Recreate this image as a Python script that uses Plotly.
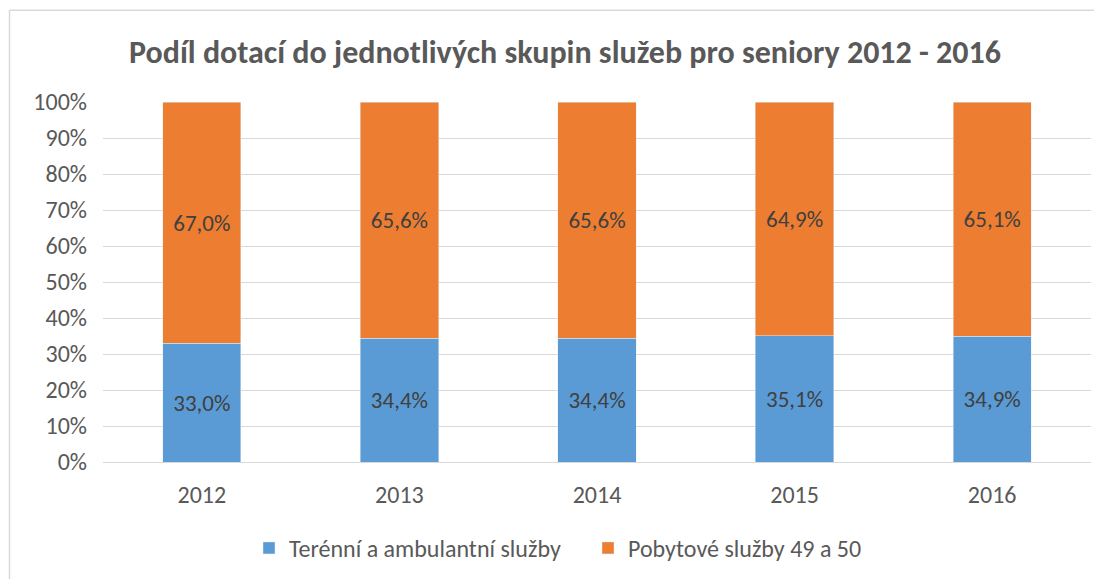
import plotly.graph_objects as go

years = ["2012", "2013", "2014", "2015", "2016"]
teren = [33.0, 34.4, 34.4, 35.1, 34.9]
pobyt = [67.0, 65.6, 65.6, 64.9, 65.1]
series_names = ["Terénní a ambulantní služby", "Pobytové služby 49 a 50"]
title = "Podíl dotací do jednotlivých skupin služeb pro seniory 2012 - 2016"

FONT = "Carlito, Lato, 'Open Sans', sans-serif"
OFF = 8  # page body margin
W, H = 1102 - OFF, 579 - OFF
# plot area in reference screenshot pixels
PL, PR, PT, PB = 103, 1091, 101.7, 461.7
L, R, T, B = PL - OFF, W - (PR - OFF), PT - OFF, H - (PB - OFF)
pw, ph = W - L - R, H - T - B


def px(x):
    return (x - OFF - L) / pw


def py(y):
    return (H - B - (y - OFF)) / ph


fig = go.Figure()
fig.add_bar(x=years, y=teren, name=series_names[0], marker_color="#5B9BD5",
            texttemplate="%{y:.1f}%", textposition="inside", insidetextanchor="middle",
            textfont=dict(family=FONT, size=23, color="#404040"))
fig.add_bar(x=years, y=pobyt, name=series_names[1], marker_color="#ED7D31",
            texttemplate="%{y:.1f}%", textposition="inside", insidetextanchor="middle",
            textfont=dict(family=FONT, size=23, color="#404040"))

fig.update_layout(
    width=W, height=H,
    barmode="stack", bargap=0.604,
    separators=", ",
    plot_bgcolor="white", paper_bgcolor="white",
    margin=dict(l=L, r=R, t=T, b=B, autoexpand=False),
    font=dict(family=FONT, color="#595959", size=24),
    title=dict(text="<b>" + title + "</b>", x=px(565), xanchor="center", xref="paper",
               y=1 - (52 - OFF) / H, yanchor="middle",
               font=dict(family=FONT, size=32, color="#595959")),
    showlegend=True,
    legend=dict(orientation="h", x=px(249), xanchor="left", y=py(548), yanchor="middle",
                font=dict(family=FONT, size=24, color="#595959"),
                itemwidth=30, traceorder="normal", entrywidth=294, entrywidthmode="pixels"),
    xaxis=dict(showgrid=False, showline=False, ticks="", tickfont=dict(size=24),
               ticklabelstandoff=16),
    yaxis=dict(range=[0, 100], dtick=10, ticksuffix="%", showgrid=True,
               gridcolor="#D9D9D9", gridwidth=1, zeroline=True, zerolinecolor="#D9D9D9",
               zerolinewidth=1, showline=False, ticks="", tickfont=dict(size=24),
               ticklabelstandoff=15),
    uniformtext=dict(mode=False),
)

# outer chart border (top and left visible)
fig.add_shape(type="line", xref="paper", yref="paper", x0=px(9.5), x1=px(1110), y0=py(10), y1=py(10),
              line=dict(color="#D9D9D9", width=1.5))
fig.add_shape(type="line", xref="paper", yref="paper", x0=px(9.5), x1=px(9.5), y0=py(10), y1=py(600),
              line=dict(color="#D9D9D9", width=1.5))

fig.write_html("out.html")
